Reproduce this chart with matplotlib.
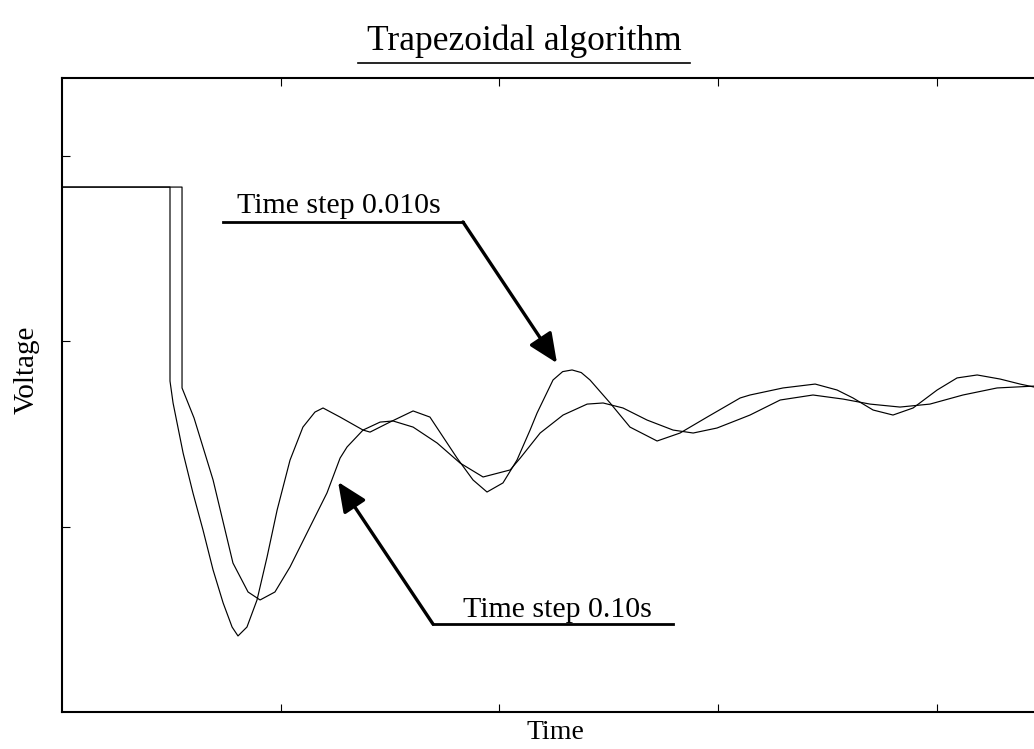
import matplotlib.pyplot as plt
from matplotlib.lines import Line2D

plt.rcParams['font.family'] = ['Liberation Serif', 'DejaVu Serif']

# Time step 0.010s response (axis units = tick spacing)
t_fine = [0, 0.494, 0.494, 0.508, 0.554, 0.599, 0.645, 0.691, 0.737, 0.778, 0.805,
          0.846, 0.892, 0.938, 0.984, 1.043, 1.102, 1.157, 1.194, 1.272, 1.377,
          1.409, 1.500, 1.606, 1.683, 1.807, 1.880, 1.944, 2.017, 2.081, 2.141,
          2.173, 2.246, 2.290, 2.333, 2.375, 2.415, 2.507, 2.598, 2.722, 2.827,
          2.951, 3.102, 3.147, 3.298, 3.445, 3.545, 3.618, 3.710, 3.801, 3.893,
          4.003, 4.094, 4.186, 4.291, 4.382, 4.446]
v_fine = [2.83, 2.83, 1.784, 1.666, 1.396, 1.181, 0.981, 0.766, 0.588, 0.458, 0.410,
          0.458, 0.604, 0.836, 1.089, 1.358, 1.536, 1.617, 1.639, 1.590, 1.520,
          1.509, 1.563, 1.623, 1.590, 1.369, 1.251, 1.186, 1.235, 1.358, 1.520,
          1.612, 1.790, 1.835, 1.844, 1.830, 1.790, 1.666, 1.536, 1.461, 1.504,
          1.590, 1.693, 1.709, 1.747, 1.768, 1.736, 1.693, 1.628, 1.601, 1.639,
          1.736, 1.801, 1.817, 1.795, 1.768, 1.752]

# Time step 0.10s response
t_coarse = [0, 0.549, 0.549, 0.604, 0.691, 0.782, 0.851, 0.906, 0.974, 1.043, 1.134,
            1.212, 1.272, 1.304, 1.377, 1.455, 1.514, 1.606, 1.716, 1.821, 1.926,
            2.050, 2.096, 2.187, 2.292, 2.402, 2.475, 2.566, 2.676, 2.795, 2.887,
            2.996, 3.102, 3.147, 3.285, 3.435, 3.573, 3.696, 3.833, 3.970, 4.121,
            4.277, 4.446]
v_coarse = [2.83, 2.83, 1.747, 1.585, 1.251, 0.803, 0.647, 0.604, 0.647, 0.782, 0.997,
            1.181, 1.369, 1.429, 1.520, 1.563, 1.569, 1.536, 1.450, 1.342, 1.267,
            1.305, 1.369, 1.504, 1.601, 1.660, 1.666, 1.639, 1.574, 1.520, 1.504,
            1.531, 1.580, 1.601, 1.682, 1.709, 1.687, 1.660, 1.644, 1.660, 1.709,
            1.747, 1.757]

fig = plt.figure(figsize=(10.34, 7.49), dpi=100)
# axes runs past the right edge of the picture, like the original crop
ax = fig.add_axes([62 / 1034, 37 / 749, 986 / 1034, 634 / 749])

ax.plot(t_fine, v_fine, color='black', lw=0.85)
ax.plot(t_coarse, v_coarse, color='black', lw=0.85)

ax.set_xlim(0, 4.51)
ax.set_ylim(0, 3.418)
ax.set_xticks([1, 2, 3, 4])
ax.set_yticks([1, 2, 3])
ax.set_xticklabels([])
ax.set_yticklabels([])
ax.tick_params(direction='in', length=6, width=0.8, top=True, right=True)
for s in ax.spines.values():
    s.set_linewidth(1.5)

ax.set_xlabel('Time', fontsize=20)
ax.xaxis.set_label_coords(0.5, -0.012)
ax.xaxis.label.set_va('top')
ax.set_ylabel('Voltage', fontsize=21)
ax.yaxis.set_label_coords(-0.023, 0.54)

# title with underline
fig.text(0.507, 1 - 50 / 749, 'Trapezoidal algorithm', fontsize=25.5,
         ha='center', va='baseline')
fig.add_artist(Line2D([358 / 1034, 690 / 1034], [1 - 63 / 749, 1 - 63 / 749],
                      color='black', lw=1.2))

# annotations
arrow = dict(arrowstyle='-|>,head_length=1.8,head_width=0.8', color='black',
             lw=2.4, shrinkA=0, shrinkB=0)

ax.text(0.80, 2.690, 'Time step 0.010s', fontsize=21.5, va='baseline')
ax.plot([0.737, 1.834], [2.642, 2.642], color='black', lw=2, clip_on=False)
ax.annotate('', xy=(2.264, 1.881), xytext=(1.834, 2.642), arrowprops=arrow)

ax.text(1.834, 0.512, 'Time step 0.10s', fontsize=21.5, va='baseline')
ax.plot([1.697, 2.795], [0.474, 0.474], color='black', lw=2, clip_on=False)
ax.annotate('', xy=(1.263, 1.240), xytext=(1.697, 0.474), arrowprops=arrow)

fig.savefig('out.png', dpi=100)
